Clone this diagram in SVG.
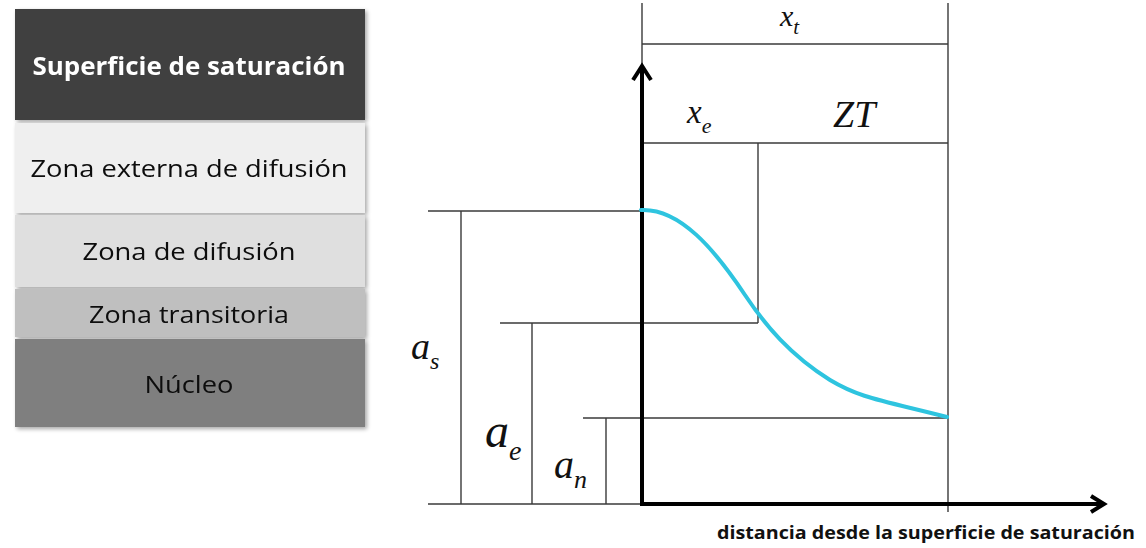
<svg xmlns="http://www.w3.org/2000/svg" width="1146" height="548" viewBox="0 0 1146 548">
<defs>
<style>
.band text{font-family:"Open Sans","Noto Sans","Liberation Sans",sans-serif;font-size:24px;text-anchor:middle;fill:#0d0d0d}
.thin{stroke:#3a3a3a;stroke-width:1.4;fill:none}
.axis{stroke:#000;stroke-width:4;fill:none}
</style>
<filter id="sh" x="-5%" y="-5%" width="115%" height="115%">
<feGaussianBlur in="SourceAlpha" stdDeviation="2"/>
<feOffset dx="2" dy="2"/>
<feComponentTransfer><feFuncA type="linear" slope="0.35"/></feComponentTransfer>
<feMerge><feMergeNode/><feMergeNode in="SourceGraphic"/></feMerge>
</filter>
</defs>
<rect width="1146" height="548" fill="#fff"/>

<g id="table" filter="url(#sh)">
<g id="band-superficie" class="band">
<rect x="15" y="9" width="350" height="111" fill="#404040"/>
<text x="189" y="75" style="fill:#fff;font-weight:bold;font-size:25px" textLength="313" lengthAdjust="spacingAndGlyphs">Superficie de saturación</text>
</g>
<g id="band-externa" class="band">
<rect x="15" y="123" width="350" height="90" fill="#efefef"/>
<text x="189" y="177" textLength="317" lengthAdjust="spacingAndGlyphs">Zona externa de difusión</text>
</g>
<g id="band-difusion" class="band">
<rect x="15" y="215" width="350" height="72" fill="#dfdfdf"/>
<text x="189" y="260" textLength="213" lengthAdjust="spacingAndGlyphs">Zona de difusión</text>
</g>
<g id="band-transitoria" class="band">
<rect x="15" y="289" width="350" height="48" fill="#bfbfbf"/>
<text x="189" y="323" textLength="200" lengthAdjust="spacingAndGlyphs">Zona transitoria</text>
</g>
<g id="band-nucleo" class="band">
<rect x="15" y="339" width="350" height="88" fill="#7f7f7f"/>
<text x="189" y="393" textLength="89" lengthAdjust="spacingAndGlyphs">Núcleo</text>
</g>
</g>

<g id="connectors">
<line class="thin" x1="642" y1="3" x2="642" y2="66"/>
<line class="thin" x1="948" y1="3" x2="948" y2="512"/>
<line class="thin" x1="642" y1="44" x2="948" y2="44"/>
<line class="thin" x1="642" y1="143" x2="948" y2="143"/>
<line class="thin" x1="758" y1="143" x2="758" y2="323"/>
<line class="thin" x1="428" y1="211" x2="642" y2="211"/>
<line class="thin" x1="461" y1="211" x2="461" y2="504"/>
<line class="thin" x1="500" y1="323" x2="758" y2="323"/>
<line class="thin" x1="532" y1="323" x2="532" y2="504"/>
<line class="thin" x1="583" y1="418" x2="948" y2="418"/>
<line class="thin" x1="606" y1="418" x2="606" y2="504"/>
<line class="thin" x1="428" y1="504" x2="642" y2="504"/>
<polyline class="axis" points="642,67 642,504 1104,504"/>
<polyline class="axis" points="633,80 642,66 651,80"/>
<polyline class="axis" points="1091,496 1104,504 1091,512"/>
<path d="M641,210 C680,208 715,250 745,295 C765,325 790,355 830,380 C860,398 880,400 947,417" fill="none" stroke="#2ec4df" stroke-width="4" stroke-linecap="round"/>
</g>

<g id="labels" style="font-family:'Liberation Serif','DejaVu Serif',serif;font-style:italic;fill:#111">
<text x="780" y="26" style="font-size:30px">x<tspan style="font-size:21px" dy="8">t</tspan></text>
<text x="687" y="123" style="font-size:33px">x<tspan style="font-size:22px" dy="10">e</tspan></text>
<text x="833" y="127" style="font-size:38px">ZT</text>
<text x="411" y="359" style="font-size:38px">a<tspan style="font-size:24px" dy="10">s</tspan></text>
<text x="485" y="447" style="font-size:48px">a<tspan style="font-size:28px" dy="13">e</tspan></text>
<text x="554" y="478" style="font-size:40px">a<tspan style="font-size:26px" dy="10">n</tspan></text>
</g>
<g id="axis-label">
<text x="717" y="539" style="font-family:'Open Sans','Liberation Sans',sans-serif;font-weight:bold;font-size:17px;fill:#111" textLength="418" lengthAdjust="spacingAndGlyphs">distancia desde la superficie de saturación</text>
</g>
</svg>
